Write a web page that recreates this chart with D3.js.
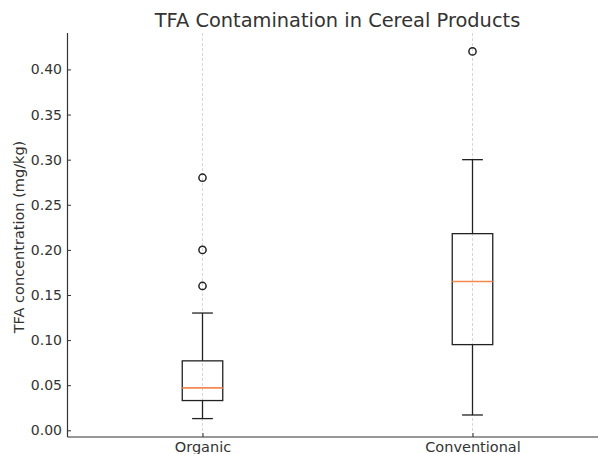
<!DOCTYPE html>
<html><head><meta charset="utf-8">
<script src="https://cdn.jsdelivr.net/npm/d3@7"></script>
<style>
html,body{margin:0;padding:0;background:#fff;}
text{font-family:"DejaVu Sans",sans-serif;}
</style></head>
<body><svg id="chart" width="598" height="454"></svg>
<script>
const categories = ["Organic", "Conventional"];
const whiskerLow = [0.013, 0.017];
const q1 = [0.033, 0.095];
const medians = [0.047, 0.165];
const q3 = [0.077, 0.218];
const whiskerHigh = [0.13, 0.30];
const outliers = [[0.16, 0.20, 0.28], [0.42]];
const yTicks = [0.00, 0.05, 0.10, 0.15, 0.20, 0.25, 0.30, 0.35, 0.40];

(function(){
const svg = d3.select("#chart");
const mLeft = 67.5, mRight = 607.5, mTop = 33, mBottom = 437;

const x = d3.scaleLinear().domain([0.5, 2.5]).range([mLeft, mRight]);
const y = d3.scaleLinear().domain([-0.0074, 0.4404]).range([mBottom, mTop]);
const boxW = 0.075, capW = 0.0385;
const ink = "#333";

// vertical grid
svg.append("g").selectAll("line").data(categories).join("line")
  .attr("x1", (d,i)=>x(i+1)).attr("x2", (d,i)=>x(i+1))
  .attr("y1", mTop).attr("y2", mBottom)
  .attr("stroke", "#ccc").attr("stroke-width", 0.8).attr("stroke-dasharray", "3,2");

// axes (ticks point inward)
const yAxis = d3.axisLeft(y).tickValues(yTicks).tickFormat(d3.format(".2f")).tickSize(-3.5).tickPadding(5.5);
const gy = svg.append("g").attr("transform", `translate(${mLeft},0)`).call(yAxis);
gy.select(".domain").attr("d", `M0,${mTop}V${mBottom}`).attr("stroke", ink).attr("stroke-width", 1.2);
gy.selectAll(".tick line").attr("stroke", ink);
gy.selectAll(".tick text").attr("fill", ink).style("font-size", "14px");

const xAxis = d3.axisBottom(x).tickValues([1, 2]).tickFormat(d => categories[d-1]).tickSize(-4).tickPadding(4.5);
const gx = svg.append("g").attr("transform", `translate(0,${mBottom})`).call(xAxis);
gx.select(".domain").attr("d", `M${mLeft},0H${mRight}`).attr("stroke", ink).attr("stroke-width", 1.2);
gx.selectAll(".tick line").attr("stroke", ink);
gx.selectAll(".tick text").attr("fill", ink).style("font-size", "14.5px");

// boxes
const g = svg.append("g");
const sc = "#222", sw = 1.3;
categories.forEach((c, i) => {
  const cx = i + 1;
  g.append("line").attr("x1", x(cx)).attr("x2", x(cx)).attr("y1", y(q1[i])).attr("y2", y(whiskerLow[i])).attr("stroke", sc).attr("stroke-width", sw);
  g.append("line").attr("x1", x(cx)).attr("x2", x(cx)).attr("y1", y(q3[i])).attr("y2", y(whiskerHigh[i])).attr("stroke", sc).attr("stroke-width", sw);
  [whiskerLow[i], whiskerHigh[i]].forEach(v => {
    g.append("line").attr("x1", x(cx - capW)).attr("x2", x(cx + capW)).attr("y1", y(v)).attr("y2", y(v)).attr("stroke", sc).attr("stroke-width", sw);
  });
  g.append("rect").attr("x", x(cx - boxW)).attr("width", x(cx + boxW) - x(cx - boxW))
    .attr("y", y(q3[i])).attr("height", y(q1[i]) - y(q3[i]))
    .attr("fill", "none").attr("stroke", sc).attr("stroke-width", sw);
  g.append("line").attr("x1", x(cx - boxW)).attr("x2", x(cx + boxW)).attr("y1", y(medians[i])).attr("y2", y(medians[i]))
    .attr("stroke", "#f5884e").attr("stroke-width", 1.6);
  outliers[i].forEach(v => {
    g.append("circle").attr("cx", x(cx)).attr("cy", y(v)).attr("r", 3.6)
      .attr("fill", "none").attr("stroke", sc).attr("stroke-width", 1.5);
  });
});

svg.append("text").attr("x", (mLeft + mRight) / 2).attr("y", 27).attr("text-anchor", "middle")
  .attr("fill", ink).style("font-size", "19.4px").text("TFA Contamination in Cereal Products");

svg.append("text").attr("transform", `translate(23.5,237) rotate(-90)`)
  .attr("text-anchor", "middle").attr("fill", ink).style("font-size", "14.5px")
  .text("TFA concentration (mg/kg)");
})();
</script></body></html>
